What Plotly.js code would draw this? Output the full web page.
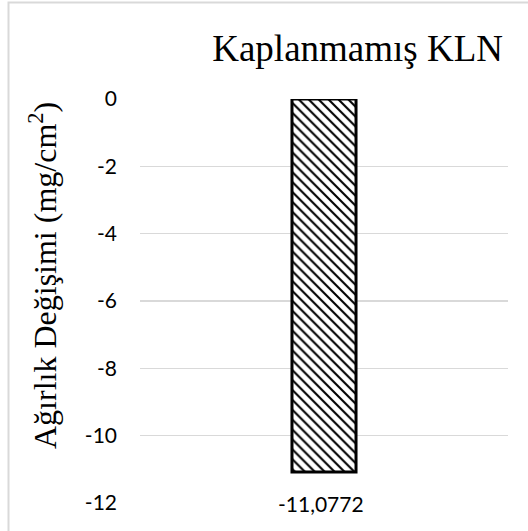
<!DOCTYPE html>
<html>
<head>
<meta charset="utf-8">
<script src="https://cdn.plot.ly/plotly-3.0.1.min.js"></script>
<style>
  html, body { margin: 0; padding: 0; background: #fff; }
  #chart { width: 528px; height: 531px; }
</style>
</head>
<body>
<div id="chart"></div>
<script>
// Sample and measured weight change
const categories = ['Kaplanmamış KLN'];
const weightChange = [-11.0772];

// Y axis ticks (hyphen minus, as in the original labels)
const tickValues = [0, -2, -4, -6, -8, -10, -12];
const tickLabels = ['0', '-2', '-4', '-6', '-8', '-10', '-12'];

const yTitle = 'Ağırlık Değişimi (mg/cm<sup>2</sup>)';

const fmt = v => String(v).replace('.', ',');
const serif = '"Liberation Serif", "Times New Roman", serif';
const sans = 'Lato, sans-serif';

const trace = {
  type: 'bar',
  x: categories,
  y: weightChange,
  marker: {
    color: '#ffffff',
    line: { color: '#000000', width: 3 },
    pattern: { shape: '\\', fgcolor: '#000000', bgcolor: '#ffffff', size: 7, solidity: 0.3 }
  },
  hoverinfo: 'skip'
};

// value labels under each bar
const valueLabels = categories.map((c, i) => ({
  x: c, y: weightChange[i], xref: 'x', yref: 'y',
  text: fmt(weightChange[i]),
  showarrow: false, yanchor: 'top', yshift: -17, xshift: -3,
  font: { family: sans, size: 21, color: '#000' }
}));

// rotated y axis title, placed slightly above the plot centre
const yTitleNote = {
  xref: 'paper', yref: 'paper', x: (43 - 140) / 368, y: (503 - 276) / 404,
  xanchor: 'center', yanchor: 'middle', textangle: -90, showarrow: false,
  text: yTitle, font: { family: serif, size: 32, color: '#000' }
};

const layout = {
  width: 528, height: 531,
  margin: { l: 140, r: 20, t: 99, b: 28 },
  paper_bgcolor: '#fff', plot_bgcolor: '#fff',
  showlegend: false,
  bargap: 0.826,
  title: {
    text: 'Kaplanmamış KLN',
    font: { family: serif, size: 37, color: '#000' },
    xref: 'container', x: 503 / 528, xanchor: 'right',
    yref: 'container', y: 1 - 48 / 531, yanchor: 'middle'
  },
  xaxis: {
    showticklabels: false, showgrid: false, zeroline: false, showline: false, ticks: ''
  },
  yaxis: {
    range: [-12, 0],
    tickvals: tickValues, ticktext: tickLabels,
    tickfont: { family: sans, size: 21, color: '#000' },
    ticklabelstandoff: 22,
    showgrid: true, gridcolor: '#d9d9d9', gridwidth: 1.5,
    zeroline: false, showline: false, ticks: ''
  },
  annotations: valueLabels.concat([yTitleNote]),
  shapes: [{
    type: 'rect', xref: 'paper', yref: 'paper',
    x0: (8.5 - 140) / 368, x1: 1.5,
    y0: -0.5, y1: (503 - 2.5) / 404,
    line: { color: '#d9d9d9', width: 2 }, fillcolor: 'rgba(0,0,0,0)', layer: 'below'
  }]
};

Plotly.newPlot('chart', [trace], layout, { staticPlot: true, displayModeBar: false });
</script>
</body>
</html>
